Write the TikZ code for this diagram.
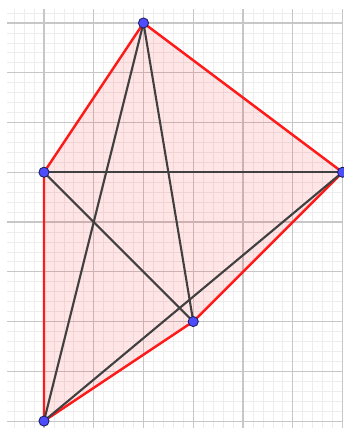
\documentclass[tikz,border=0pt]{standalone}
\begin{document}
\begin{tikzpicture}[
  minorgrid/.style={draw=black!7, line width=0.4pt},
  majorgrid/.style={draw=black!22, line width=0.6pt},
  redside/.style={draw={rgb,255:red,255;green,26;blue,26}, line width=1.4pt, line cap=round, line join=round},
  diag/.style={draw={rgb,255:red,64;green,64;blue,64}, line width=1.2pt, line cap=round},
  pt/.style={circle, fill={rgb,255:red,77;green,77;blue,255}, draw={rgb,255:red,30;green,30;blue,90}, line width=0.5pt, inner sep=0pt, minimum size=5.8pt}
]
\useasboundingbox (-0.884,-0.14) rectangle (6.01,8.462);
\fill[white] (-0.884,-0.14) rectangle (6.01,8.462);
\draw[minorgrid, step=0.2] (-0.744,-0.14) grid (6.01,8.28);
\draw[majorgrid, step=1] (-0.744,-0.14) grid (6.01,8.28);

\coordinate (T) at (2,8);
\coordinate (L) at (0,5);
\coordinate (B) at (0,0);
\coordinate (M) at (3,2);
\coordinate (R) at (6,5);

\fill[red, fill opacity=0.1] (T) -- (L) -- (B) -- (M) -- (R) -- cycle;
\draw[redside] (T) -- (L) -- (B) -- (M) -- (R) -- cycle;

\draw[diag] (T) -- (B);
\draw[diag] (T) -- (M);
\draw[diag] (L) -- (R);
\draw[diag] (L) -- (M);
\draw[diag] (B) -- (R);

\node[pt] (nT) at (T) {};
\node[pt] (nL) at (L) {};
\node[pt] (nB) at (B) {};
\node[pt] (nM) at (M) {};
\node[pt] (nR) at (R) {};
\end{tikzpicture}
\end{document}
